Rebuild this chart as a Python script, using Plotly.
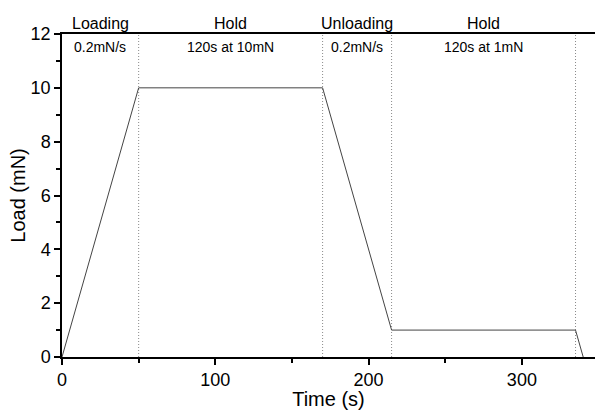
import plotly.graph_objects as go

# Load protocol (time in s, load in mN)
time_s = [0, 50, 170, 215, 335, 340]
load_mN = [0, 10, 10, 1, 1, 0]

# Phase boundaries and labels
boundaries = [50, 170, 215, 335]
phase_centers = [25, 110, 192.5, 275]
phase_names = ["Loading", "Hold", "Unloading", "Hold"]
phase_details = ["0.2mN/s", "120s at 10mN", "0.2mN/s", "120s at 1mN"]

FONT = "Liberation Sans, Arial, sans-serif"

fig = go.Figure()

for b in boundaries:
    fig.add_trace(go.Scatter(
        x=[b, b], y=[0, 12], mode="lines",
        line=dict(color="#8a8a8a", width=1, dash="1px,2px"),
        hoverinfo="skip", showlegend=False,
    ))

fig.add_trace(go.Scatter(
    x=time_s, y=load_mN, mode="lines",
    line=dict(color="#444444", width=1),
    showlegend=False,
))

for cx, name, detail in zip(phase_centers, phase_names, phase_details):
    fig.add_annotation(x=cx, y=1.034, xref="x", yref="paper", text=name,
                       xanchor="center", yanchor="middle",
                       showarrow=False, font=dict(family=FONT, size=16, color="black"))
    fig.add_annotation(x=cx, y=11.5, xref="x", yref="y", text=detail,
                       xanchor="center", yanchor="middle",
                       showarrow=False, font=dict(family=FONT, size=14, color="black"))

fig.update_layout(
    width=595, height=410,
    margin=dict(l=62, r=0, t=34, b=53),
    paper_bgcolor="white", plot_bgcolor="white",
    font=dict(family=FONT, color="black"),
    xaxis=dict(
        range=[0, 347.7], showgrid=False, zeroline=False,
        tickvals=[0, 100, 200, 300], ticks="outside", ticklen=6, tickwidth=1.5,
        tickcolor="black", tickfont=dict(size=18),
        minor=dict(tickvals=[50, 150, 250], ticks="outside", ticklen=4,
                   tickwidth=1.5, tickcolor="black", showgrid=False),
        showline=True, linecolor="black", linewidth=1.5, mirror=True,
        title=dict(text="Time (s)", font=dict(size=20), standoff=2),
    ),
    yaxis=dict(
        range=[0, 12], showgrid=False, zeroline=False,
        tickvals=[0, 2, 4, 6, 8, 10, 12], ticks="outside", ticklen=6, tickwidth=1.5,
        tickcolor="black", tickfont=dict(size=18),
        minor=dict(tickvals=[1, 3, 5, 7, 9, 11], ticks="outside", ticklen=4,
                   tickwidth=1.5, tickcolor="black", showgrid=False),
        showline=True, linecolor="black", linewidth=1.5, mirror=False,
        title=dict(text="Load (mN)", font=dict(size=20), standoff=0),
    ),
)

fig.write_html("out.html")
